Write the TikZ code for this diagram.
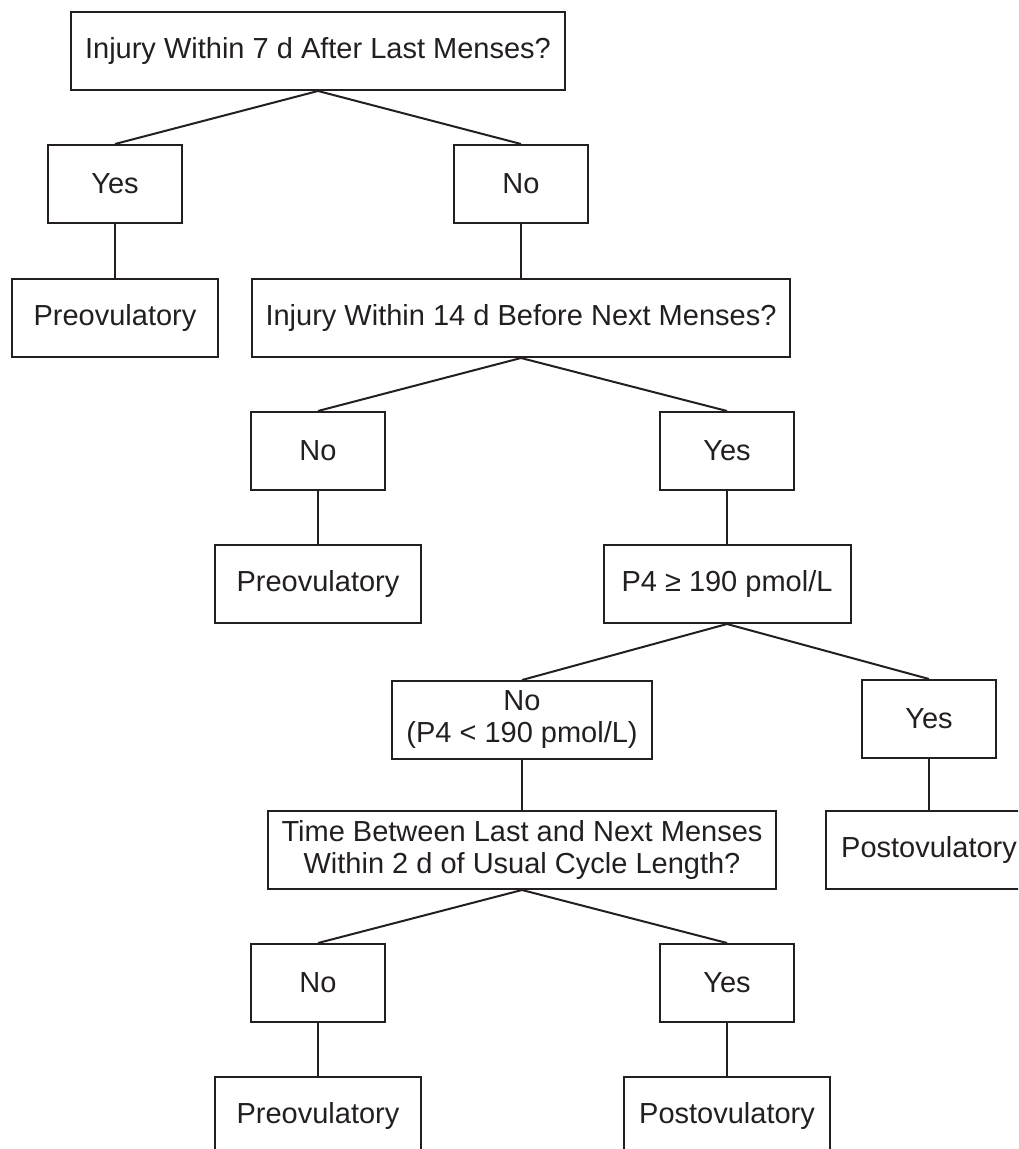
\documentclass[tikz,border=0pt]{standalone}
\usepackage{fontspec}
\setmainfont{Liberation Sans}
\usepackage{tikz}
\usetikzlibrary{positioning}
\definecolor{ink}{RGB}{35,31,32}
\tikzstyle{question} = [rectangle, draw=ink, line width=1pt, minimum height=39pt, inner xsep=7pt, inner ysep=2pt, align=center, text=ink]
\tikzstyle{answer} = [rectangle, draw=ink, line width=1pt, minimum width=67pt, minimum height=39pt, align=center, text=ink]
\tikzstyle{outcome} = [rectangle, draw=ink, line width=1pt, minimum width=103pt, minimum height=39pt, align=center, text=ink]
\tikzstyle{link} = [draw=ink, line width=1pt]

\begin{document}
\begin{tikzpicture}[x=0.5pt, y=-0.5pt, every node/.style={font=\fontsize{14.5}{16}\selectfont}]
\clip (0,0) rectangle (1018,1149);

% First question
\node (q7) [question] at (318,51) {Injury Within 7 d After Last Menses?};
\node (yes1) [answer] at (115,184) {Yes};
\node (no1) [answer] at (521,184) {No};
\node (pre1) [outcome] at (115,318) {Preovulatory};

% Second question
\node (q14) [question] at (521,318) {Injury Within 14 d Before Next Menses?};
\node (no2) [answer] at (318,451) {No};
\node (yes2) [answer] at (727,451) {Yes};
\node (pre2) [outcome] at (318,584) {Preovulatory};

% Progesterone
\node (p4) [question, inner xsep=9pt] at (727,584) {P4 ≥ 190 pmol/L};
\node (no3) [question] at (522,720) {No\\(P4 < 190 pmol/L)};
\node (yes3) [answer] at (929,719) {Yes};
\node (post1) [outcome] at (929,850) {Postovulatory};

% Cycle length
\node (qtime) [question] at (522,850) {Time Between Last and Next Menses\\Within 2 d of Usual Cycle Length?};
\node (no4) [answer] at (318,983) {No};
\node (yes4) [answer] at (727,983) {Yes};
\node (pre3) [outcome] at (318,1116) {Preovulatory};
\node (post2) [outcome] at (727,1116) {Postovulatory};

% Connectors
\draw [link] (q7.south) -- (yes1.north);
\draw [link] (q7.south) -- (no1.north);
\draw [link] (yes1) -- (pre1);
\draw [link] (no1) -- (q14);
\draw [link] (q14.south) -- (no2.north);
\draw [link] (q14.south) -- (yes2.north);
\draw [link] (no2) -- (pre2);
\draw [link] (yes2) -- (p4);
\draw [link] (p4.south) -- (no3.north);
\draw [link] (p4.south) -- (yes3.north);
\draw [link] (yes3) -- (post1);
\draw [link] (no3) -- (qtime);
\draw [link] (qtime.south) -- (no4.north);
\draw [link] (qtime.south) -- (yes4.north);
\draw [link] (no4) -- (pre3);
\draw [link] (yes4) -- (post2);

\end{tikzpicture}
\end{document}
